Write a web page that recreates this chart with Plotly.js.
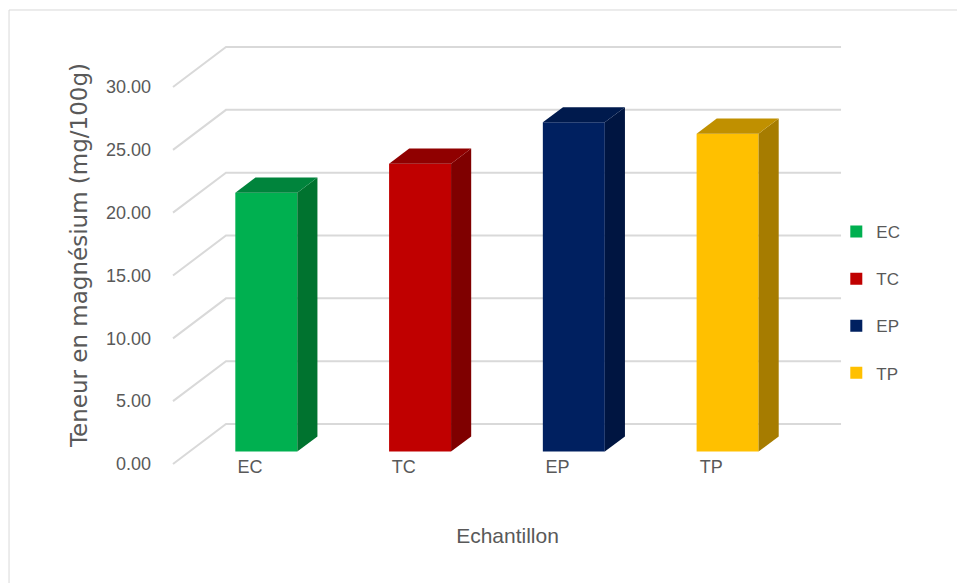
<!DOCTYPE html>
<html>
<head>
<meta charset="utf-8">
<script src="https://cdn.plot.ly/plotly-3.0.1.min.js"></script>
<style>html,body{margin:0;padding:0;background:#fff;}#chart{width:957px;height:583px;}</style>
</head>
<body>
<div id="chart"></div>
<script>
// ---- data ----
const categories = ["EC", "TC", "EP", "TP"];
const values = [20.6, 22.9, 26.2, 25.3];
const frontColors = ["#00b050", "#c00000", "#002060", "#ffc000"];
const sideColors = ["#00732f", "#7f0000", "#001541", "#a67c00"];
const topColors = ["#00843c", "#900000", "#001a4d", "#c09000"];
const yTickVals = [0, 5, 10, 15, 20, 25, 30];

// ---- oblique 3D geometry (data units) ----
const DX = 0.3447;   // full depth offset along x
const DY = 3.183;    // full depth offset along y
const T0 = 0.31, T1 = 0.69; // bar front / back depth fraction
const BW = 0.403;    // bar width
const XMIN = -0.5, XMAX = 3.5;

const traces = [];
const shapes = [];

// 3D gridlines (floor diagonal + back wall horizontal)
yTickVals.forEach(v => {
  shapes.push({type: "path", layer: "below", xref: "x", yref: "y",
    path: `M${XMIN},${v} L${XMIN + DX},${v + DY} L${XMAX + DX},${v + DY}`,
    line: {color: "#d9d9d9", width: 2}});
});

categories.forEach((c, i) => {
  const v = values[i];
  const base = T0 * DY;
  const xc = i + T0 * DX;
  const xl = xc - BW / 2, xr = xc + BW / 2;
  const top = base + v;
  const ddx = (T1 - T0) * DX, ddy = (T1 - T0) * DY;
  // front face
  traces.push({type: "bar", name: c, x: [xc], y: [v], base: [base], width: [BW],
    marker: {color: frontColors[i], line: {width: 0}}, legendgroup: c, hoverinfo: "name+y"});
  // side face
  traces.push({type: "scatter", mode: "lines", fill: "toself", fillcolor: sideColors[i],
    x: [xr, xr, xr + ddx, xr + ddx, xr], y: [base, top, top + ddy, base + ddy, base],
    line: {width: 0, color: sideColors[i]}, showlegend: false, legendgroup: c, hoverinfo: "skip"});
  // top face
  traces.push({type: "scatter", mode: "lines", fill: "toself", fillcolor: topColors[i],
    x: [xl, xr, xr + ddx, xl + ddx, xl], y: [top, top, top + ddy, top + ddy, top],
    line: {width: 0, color: topColors[i]}, showlegend: false, legendgroup: c, hoverinfo: "skip"});
});

// outer chart border
shapes.push({type: "rect", xref: "paper", yref: "paper", layer: "below",
  x0: -0.2277, x1: 1.2, y0: -0.3, y1: 1.0698, line: {color: "#d9d9d9", width: 1}});

const layout = {
  width: 957, height: 583,
  margin: {l: 165, r: 107, t: 40, b: 113},
  paper_bgcolor: "#ffffff", plot_bgcolor: "rgba(0,0,0,0)",
  font: {family: "Liberation Sans, Arial, sans-serif", color: "#595959"},
  barmode: "overlay",
  showlegend: true,
  legend: {x: 0.98, xanchor: "left", y: 0.3895, yanchor: "middle",
    font: {size: 17, color: "#595959"}, tracegroupgap: 22, bgcolor: "rgba(0,0,0,0)"},
  xaxis: {range: [-0.552, 3.903], tickvals: [0, 1, 2, 3], ticktext: categories,
    showgrid: false, zeroline: false, showline: false, ticks: "",
    tickfont: {size: 18, color: "#595959"}, ticklabelstandoff: -16,
    title: {text: "Echantillon", font: {size: 21, color: "#595959"}, standoff: 52}},
  yaxis: {range: [-0.477, 33.74], tickvals: yTickVals, tickformat: ".2f",
    showgrid: false, zeroline: false, showline: false, ticks: "",
    tickfont: {size: 18, color: "#595959"}, ticklabelstandoff: 13,
    title: {text: "Teneur en magnésium (mg/100g)", font: {size: 23, color: "#595959", family: "DejaVu Sans, sans-serif"}, standoff: 11}},
  shapes: shapes
};

Plotly.newPlot("chart", traces, layout, {displayModeBar: false});
</script>
</body>
</html>
